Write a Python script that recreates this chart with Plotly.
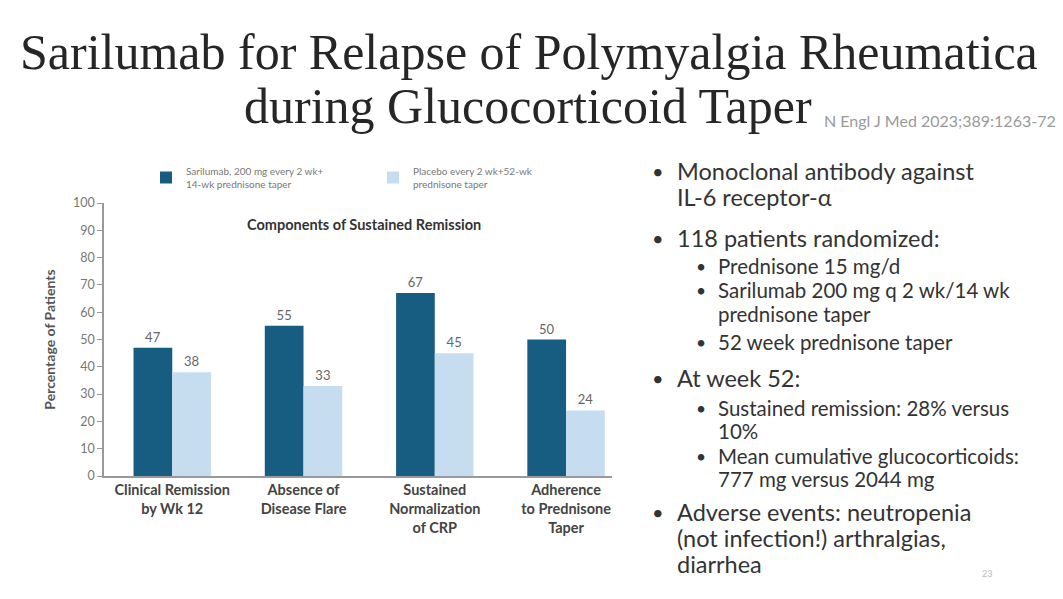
import plotly.graph_objects as go

W, H = 1063, 599

categories = ["Clinical Remission<br>by Wk 12", "Absence of<br>Disease Flare",
              "Sustained<br>Normalization<br>of CRP", "Adherence<br>to Prednisone<br>Taper"]
sarilumab = [47, 55, 67, 50]
placebo = [38, 33, 45, 24]
series_names = ["Sarilumab, 200 mg every 2 wk+<br>14-wk prednisone taper",
                "Placebo every 2 wk+52-wk<br>prednisone taper"]
y_ticks = list(range(0, 101, 10))

title_line1 = "Sarilumab for Relapse of Polymyalgia Rheumatica"
title_line2 = "during Glucocorticoid Taper"
citation = "N Engl J Med 2023;389:1263-72"
chart_title = "Components of Sustained Remission"

bullets = [
    # (level, text, y_px, bullet?)
    (0, "Monoclonal antibody against", 171, True),
    (0, "IL-6 receptor-α", 197, False),
    (0, "118 patients randomized:", 238, True),
    (1, "Prednisone 15 mg/d", 266, True),
    (1, "Sarilumab 200 mg q 2 wk/14 wk", 290, True),
    (1, "prednisone taper", 314, False),
    (1, "52 week prednisone taper", 342, True),
    (0, "At week 52:", 378, True),
    (1, "Sustained remission: 28% versus", 408, True),
    (1, "10%", 431, False),
    (1, "Mean cumulative glucocorticoids:", 456, True),
    (1, "777 mg versus 2044 mg", 479, False),
    (0, "Adverse events: neutropenia", 512, True),
    (0, "(not infection!) arthralgias,", 538, False),
    (0, "diarrhea", 564, False),
]

DARK = "#175d82"
LIGHT = "#c6ddf0"
TXT = "#333333"
GRAY = "#666666"


def px(x):
    return x / W


def py(y):
    return 1 - y / H


fig = go.Figure()
fig.add_trace(go.Bar(x=categories, y=sarilumab, name=series_names[0], marker_color=DARK,
                     marker_line_width=0, text=sarilumab, textposition="outside",
                     textfont=dict(size=13, color=GRAY, family="Lato"), cliponaxis=False))
fig.add_trace(go.Bar(x=categories, y=placebo, name=series_names[1], marker_color=LIGHT,
                     marker_line_width=0, text=placebo, textposition="outside",
                     textfont=dict(size=13, color=GRAY, family="Lato"), cliponaxis=False))

annotations = [
    dict(text=title_line1, x=px(529), y=py(52), xref="paper", yref="paper", showarrow=False,
         xanchor="center", yanchor="middle", font=dict(family="Liberation Serif", size=50, color="#262626")),
    dict(text=title_line2, x=px(528), y=py(106), xref="paper", yref="paper", showarrow=False,
         xanchor="center", yanchor="middle", font=dict(family="Liberation Serif", size=50, color="#262626")),
    dict(text=citation, x=px(822), y=py(121), xref="paper", yref="paper", showarrow=False,
         xanchor="left", yanchor="middle", font=dict(family="Lato", size=16, color="#9a9a9a")),
    dict(text=chart_title, x=px(364), y=py(224), xref="paper", yref="paper", showarrow=False,
         xanchor="center", yanchor="middle", font=dict(family="Lato", size=14.5, color=TXT, weight="bold")),
    dict(text="23", x=px(987), y=py(573), xref="paper", yref="paper", showarrow=False,
         xanchor="center", yanchor="middle", font=dict(family="Lato", size=9, color="#bbb")),
]

for level, text, ypx, has_bullet in bullets:
    size = 23.5 if level == 0 else 20.5
    tx = 675 if level == 0 else 716
    bx = 658 if level == 0 else 701
    annotations.append(dict(text=text, x=px(tx), y=py(ypx), xref="paper", yref="paper",
                            showarrow=False, xanchor="left", yanchor="middle",
                            font=dict(family="Lato", size=size, color=TXT)))
    if has_bullet:
        annotations.append(dict(text="•", x=px(bx), y=py(ypx), xref="paper", yref="paper",
                                showarrow=False, xanchor="center", yanchor="middle",
                                font=dict(family="Lato", size=size * 0.85, color=TXT)))

fig.update_layout(
    width=W, height=H,
    margin=dict(l=0, r=0, t=0, b=0),
    paper_bgcolor="white", plot_bgcolor="white",
    barmode="group", bargap=0.41, bargroupgap=0,
    font=dict(family="Lato", color=TXT),
    showlegend=True,
    legend=dict(orientation="h", x=px(146), y=py(158), xanchor="left", yanchor="top",
                font=dict(size=10, color="#777", family="Lato"), itemwidth=30,
                bgcolor="rgba(0,0,0,0)", entrywidth=182),
    annotations=annotations,
    xaxis=dict(domain=[px(104), px(612)], range=[-0.52, 3.35], showline=True,
               linecolor="#999", linewidth=1.5, ticks="", showgrid=False,
               tickfont=dict(size=14.5, color="#444", family="Lato", weight="bold"),
               automargin=False),
    yaxis=dict(domain=[py(476), py(203)], range=[0, 100], tickvals=y_ticks,
               showline=True, linecolor="#999", linewidth=1.5, ticks="outside",
               ticklen=5, tickcolor="#999", showgrid=False, zeroline=False,
               tickfont=dict(size=12.5, color="#777", family="Lato"),
               title=dict(text="Percentage of Patients", standoff=14,
                          font=dict(size=14, color="#555", family="Lato", weight="bold")),
               automargin=False),
)

fig.write_html("out.html")
